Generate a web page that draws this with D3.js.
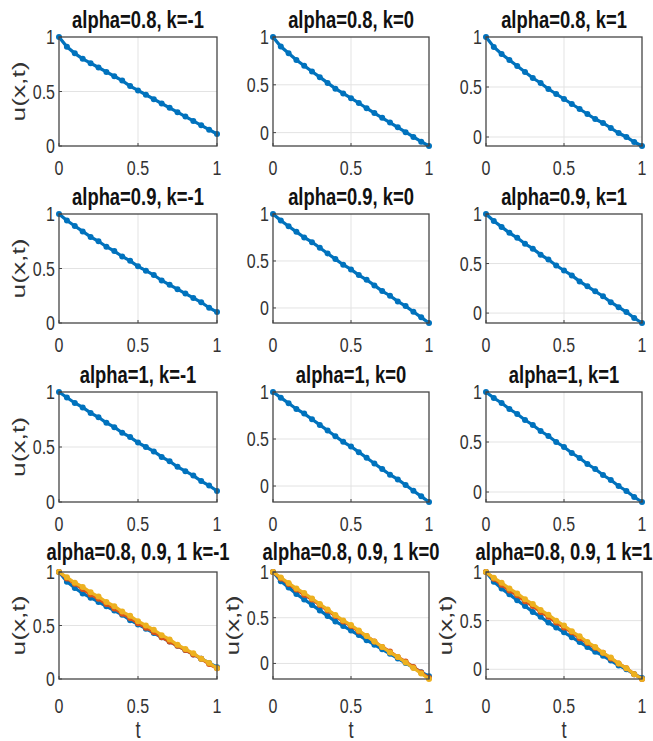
<!DOCTYPE html>
<html>
<head>
<meta charset="utf-8">
<script src="https://cdn.jsdelivr.net/npm/d3@7"></script>
<style>
  html, body { margin: 0; padding: 0; background: #fff; }
  svg { display: block; }
  .tick-label { font-family: "Liberation Sans", Arial, sans-serif; font-size: 20px; fill: #333; }
  .title { font-family: "Liberation Sans", Arial, sans-serif; font-size: 23px; font-weight: bold; fill: #111; }
  .axis-label { font-family: "Liberation Sans", Arial, sans-serif; font-size: 23px; fill: #333; }
</style>
</head>
<body>
<svg id="chart" width="653" height="741"></svg>
<script>
// time grid
const tValues = [0, 0.05, 0.1, 0.15, 0.2, 0.25, 0.3, 0.35, 0.4, 0.45, 0.5, 0.55, 0.6, 0.65, 0.7, 0.75, 0.8, 0.85, 0.9, 0.95, 1];

const alphaLabels = ["0.8", "0.9", "1"];
const kValues = [-1, 0, 1];
const xTicks = [0, 0.5, 1];
const yTicks = [0, 0.5, 1];

// u(x,t) per alpha and k
const u_a08_km1 = [1.00, 0.91, 0.85, 0.80, 0.76, 0.72, 0.68, 0.64, 0.60, 0.55, 0.51, 0.47, 0.43, 0.39, 0.35, 0.31, 0.27, 0.23, 0.19, 0.15, 0.11];
const u_a08_k0  = [1.00, 0.90, 0.83, 0.76, 0.70, 0.64, 0.58, 0.52, 0.46, 0.41, 0.36, 0.31, 0.255, 0.205, 0.155, 0.105, 0.055, 0.005, -0.045, -0.095, -0.14];
const u_a08_k1  = [1.00, 0.90, 0.83, 0.77, 0.71, 0.65, 0.59, 0.54, 0.48, 0.43, 0.38, 0.33, 0.28, 0.23, 0.18, 0.14, 0.09, 0.04, 0.00, -0.05, -0.09];

const u_a09_km1 = [1.00, 0.94, 0.89, 0.84, 0.79, 0.75, 0.70, 0.66, 0.61, 0.57, 0.52, 0.48, 0.44, 0.39, 0.35, 0.31, 0.27, 0.23, 0.19, 0.14, 0.10];
const u_a09_k0  = [1.00, 0.93, 0.87, 0.81, 0.75, 0.70, 0.64, 0.58, 0.52, 0.46, 0.41, 0.35, 0.30, 0.24, 0.18, 0.13, 0.07, 0.02, -0.04, -0.10, -0.16];
const u_a09_k1  = [1.00, 0.93, 0.87, 0.81, 0.76, 0.70, 0.65, 0.59, 0.54, 0.48, 0.43, 0.38, 0.32, 0.27, 0.22, 0.17, 0.11, 0.06, 0.01, -0.05, -0.10];

const u_a1_km1  = [1.00, 0.95, 0.90, 0.86, 0.81, 0.77, 0.72, 0.68, 0.63, 0.59, 0.54, 0.50, 0.46, 0.41, 0.37, 0.32, 0.28, 0.24, 0.19, 0.15, 0.10];
const u_a1_k0   = [1.00, 0.94, 0.88, 0.82, 0.77, 0.71, 0.65, 0.59, 0.53, 0.47, 0.42, 0.36, 0.30, 0.24, 0.18, 0.12, 0.07, 0.01, -0.05, -0.11, -0.17];
const u_a1_k1   = [1.00, 0.94, 0.89, 0.83, 0.78, 0.72, 0.67, 0.61, 0.56, 0.50, 0.45, 0.39, 0.34, 0.28, 0.23, 0.17, 0.12, 0.06, 0.01, -0.05, -0.10];

const seriesGrid = [
  [u_a08_km1, u_a08_k0, u_a08_k1],
  [u_a09_km1, u_a09_k0, u_a09_k1],
  [u_a1_km1, u_a1_k0, u_a1_k1]
];
const lineColors = ["#0072BD", "#D95319", "#EDB120"];

// panel boxes in pixels
const colLeft = [59, 273, 486];
const colRight = [217, 429, 642];
const rowTop = [37, 214, 392, 572];
const rowBottom = [146, 323, 502, 679];
const squeeze = 0.8; // the figure is squashed sideways, so is its text

const svg = d3.select("#chart");

function drawPanel(row, col, seriesList, colors, title) {
  const k = kValues[col];
  const yMin = k === -1 ? 0 : d3.min(seriesList, s => d3.min(s));
  const x = d3.scaleLinear().domain([0, 1]).range([colLeft[col], colRight[col]]);
  const y = d3.scaleLinear().domain([yMin, 1]).range([rowBottom[row], rowTop[row]]);
  const g = svg.append("g");
  const left = colLeft[col], right = colRight[col], top = rowTop[row], bottom = rowBottom[row];

  // grid
  g.selectAll(".gx").data(xTicks.filter(v => v > 0 && v < 1)).join("line")
    .attr("x1", d => x(d)).attr("x2", d => x(d)).attr("y1", top).attr("y2", bottom)
    .attr("stroke", "#e3e3e3").attr("stroke-width", 1);
  g.selectAll(".gy").data(yTicks.filter(v => v > yMin && v < 1)).join("line")
    .attr("x1", left).attr("x2", right).attr("y1", d => y(d)).attr("y2", d => y(d))
    .attr("stroke", "#e3e3e3").attr("stroke-width", 1);

  // curves
  const line = d3.line().x((d, i) => x(tValues[i])).y(d => y(d));
  seriesList.forEach((s, si) => {
    g.append("path").datum(s).attr("d", line)
      .attr("fill", "none").attr("stroke", colors[si]).attr("stroke-width", 3.2);
    g.selectAll(null).data(s).join("circle")
      .attr("cx", (d, i) => x(tValues[i])).attr("cy", d => y(d)).attr("r", 3)
      .attr("fill", colors[si]);
  });

  // box + inward ticks
  g.append("rect").attr("x", left).attr("y", top).attr("width", right - left).attr("height", bottom - top)
    .attr("fill", "none").attr("stroke", "#454545").attr("stroke-width", 1.3);
  g.selectAll(".tx").data(xTicks).join("line")
    .attr("x1", d => x(d)).attr("x2", d => x(d)).attr("y1", bottom).attr("y2", bottom - 3)
    .attr("stroke", "#454545");
  g.selectAll(".ty").data(yTicks).join("line")
    .attr("x1", left).attr("x2", left + 3).attr("y1", d => y(d)).attr("y2", d => y(d))
    .attr("stroke", "#454545");

  // tick labels
  const xOff = row === 3 ? 27 : 22;
  g.selectAll(".xl").data(xTicks).join("text").attr("class", "tick-label")
    .attr("transform", d => `translate(${x(d)},${bottom + xOff}) scale(${squeeze},1)`)
    .attr("dy", "0.35em").attr("text-anchor", "middle").text(d => d3.format("")(d));
  g.selectAll(".yl").data(yTicks).join("text").attr("class", "tick-label")
    .attr("transform", d => `translate(${left - 4},${y(d)}) scale(${squeeze},1)`)
    .attr("dy", "0.35em").attr("text-anchor", "end").text(d => d3.format("")(d));

  const titleGap = row === 3 ? 12 : 9;
  g.append("text").attr("class", "title")
    .attr("transform", `translate(${(left + right) / 2},${top - titleGap}) scale(${squeeze},1)`)
    .attr("text-anchor", "middle").text(title);

  if (col === 0 || row === 3) {
    g.append("text").attr("class", "axis-label")
      .attr("transform", `translate(${left - 34},${(top + bottom) / 2}) rotate(-90) scale(1,${squeeze})`)
      .attr("text-anchor", "middle").attr("textLength", 60).attr("lengthAdjust", "spacingAndGlyphs")
      .text("u(x,t)");
  }
  if (row === 3) {
    g.append("text").attr("class", "axis-label")
      .attr("transform", `translate(${(left + right) / 2},738) scale(${squeeze},1)`)
      .attr("text-anchor", "middle").text("t");
  }
}

for (let r = 0; r < 3; r++) {
  for (let c = 0; c < 3; c++) {
    drawPanel(r, c, [seriesGrid[r][c]], [lineColors[0]], `alpha=${alphaLabels[r]}, k=${kValues[c]}`);
  }
}
for (let c = 0; c < 3; c++) {
  drawPanel(3, c, [seriesGrid[0][c], seriesGrid[1][c], seriesGrid[2][c]], lineColors,
    `alpha=${alphaLabels.join(", ")} k=${kValues[c]}`);
}
</script>
</body>
</html>
